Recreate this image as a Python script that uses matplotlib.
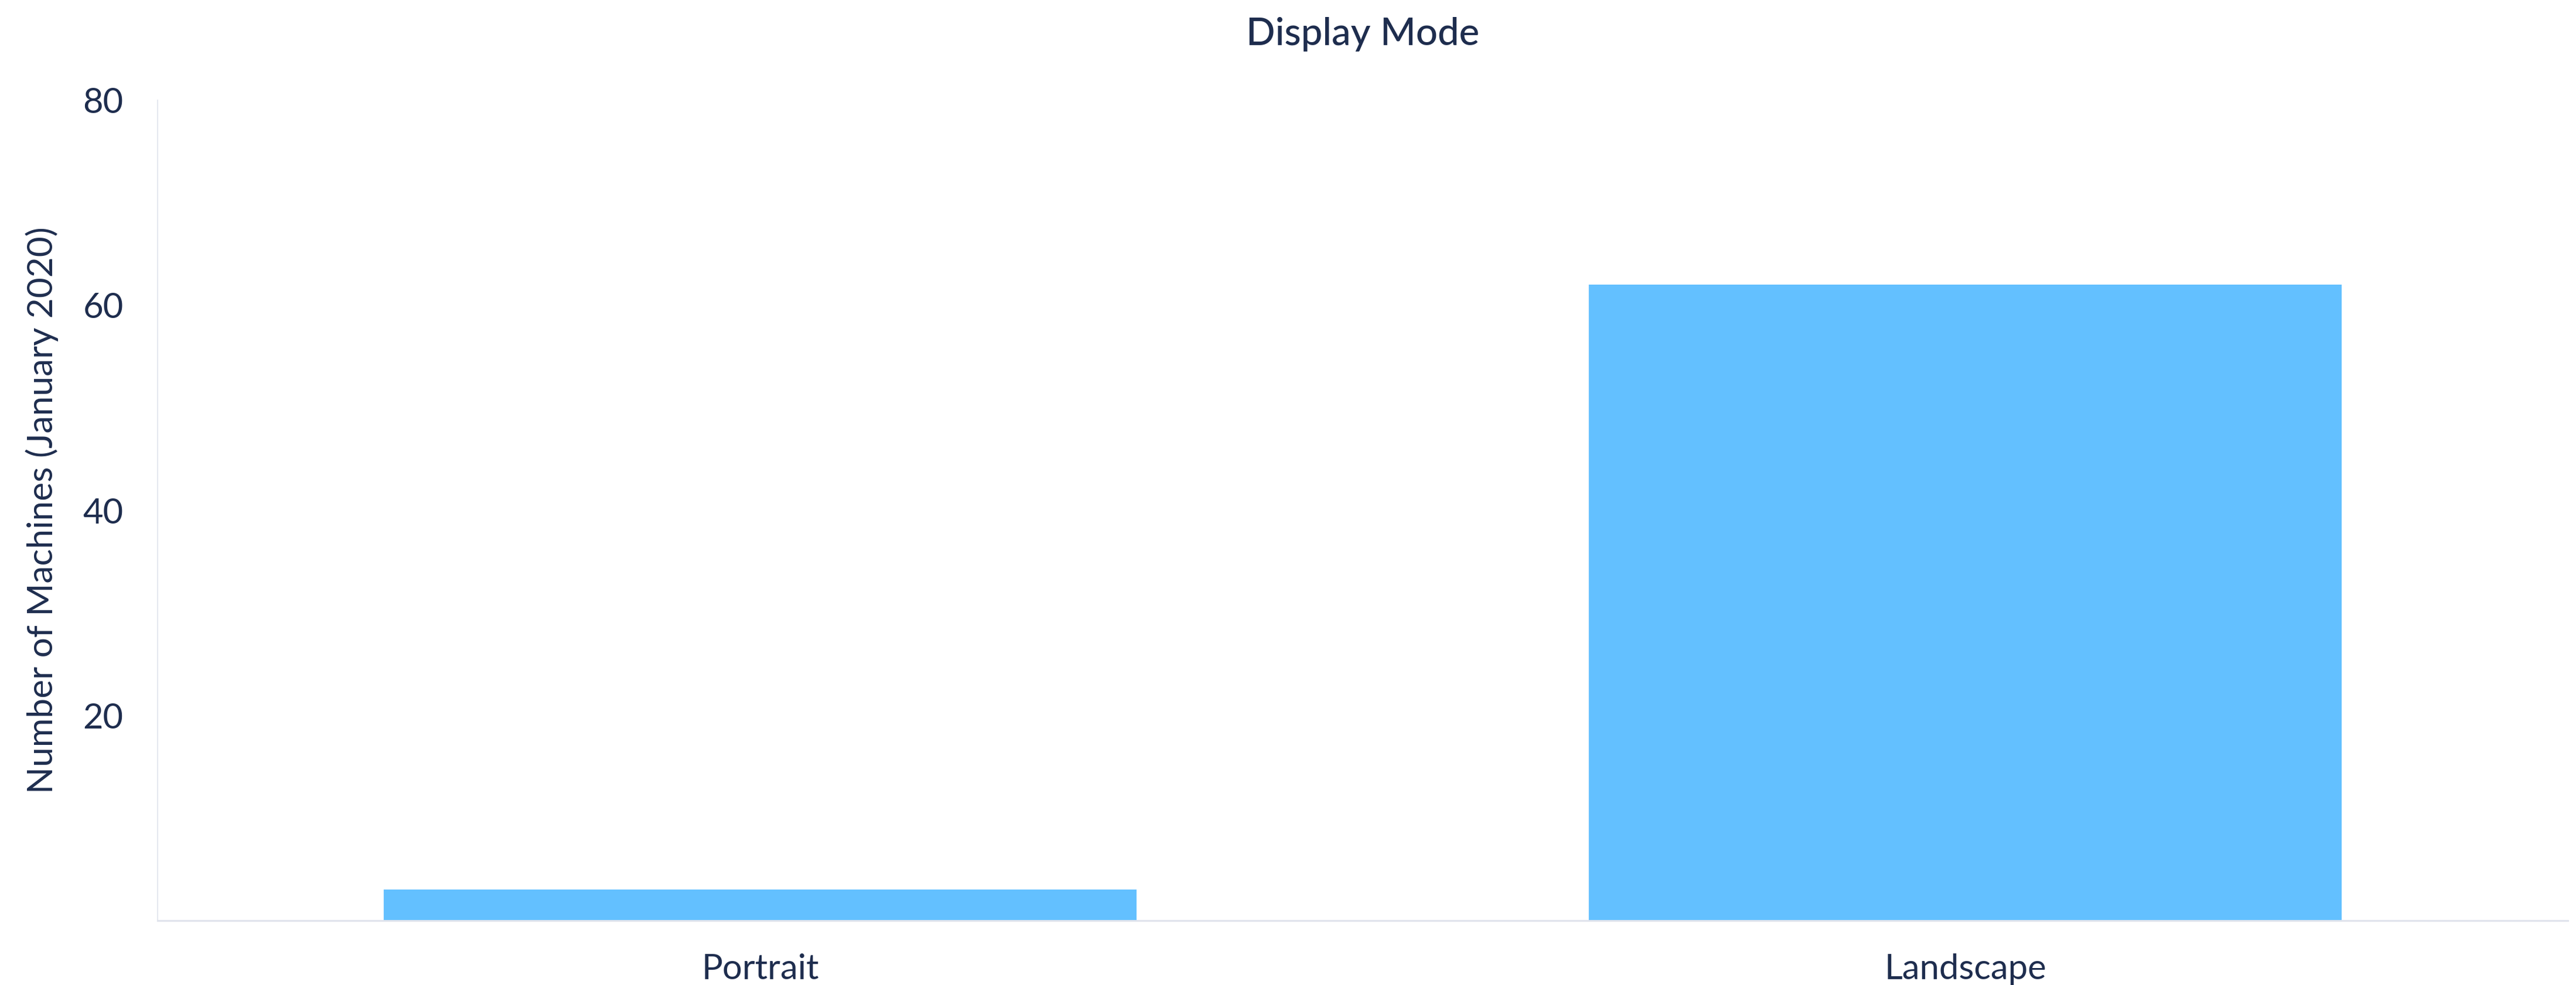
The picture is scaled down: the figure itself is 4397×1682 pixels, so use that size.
import matplotlib
matplotlib.use('Agg')
import matplotlib.pyplot as plt

# data
categories = ['Portrait', 'Landscape']
machines = [3, 62]
y_ticks = [20, 40, 60, 80]

text_color = '#1e2d4e'
bar_color = '#63c0ff'
axis_color = '#dfe3ec'

plt.rcParams['font.family'] = ['Lato', 'DejaVu Sans']

fig = plt.figure(figsize=(43.97, 16.82), dpi=100)
ax = fig.add_axes([269 / 4397, 1 - 1572 / 1682, (4383 - 269) / 4397, (1572 - 171) / 1682])

ax.bar(range(len(categories)), machines, width=0.625, color=bar_color)

ax.set_xlim(-0.5, len(categories) - 0.5)
ax.set_ylim(0, 80)
ax.set_xticks(range(len(categories)))
ax.set_xticklabels(categories)
ax.set_yticks(y_ticks)

ax.tick_params(axis='both', length=0, labelsize=43, labelcolor=text_color)
ax.tick_params(axis='x', pad=40)
ax.tick_params(axis='y', pad=42)

for s in ['top', 'right']:
    ax.spines[s].set_visible(False)
ax.spines['left'].set_color(axis_color)
ax.spines['left'].set_linewidth(1.2)
ax.spines['bottom'].set_color(axis_color)
ax.spines['bottom'].set_linewidth(2.2)

ax.set_ylabel('Number of Machines (January 2020)', fontsize=43.5, color=text_color, labelpad=30)
ax.set_title('Display Mode', fontsize=47, color=text_color, pad=68, fontweight='medium')

fig.savefig('out.png', dpi=100, facecolor='white')
